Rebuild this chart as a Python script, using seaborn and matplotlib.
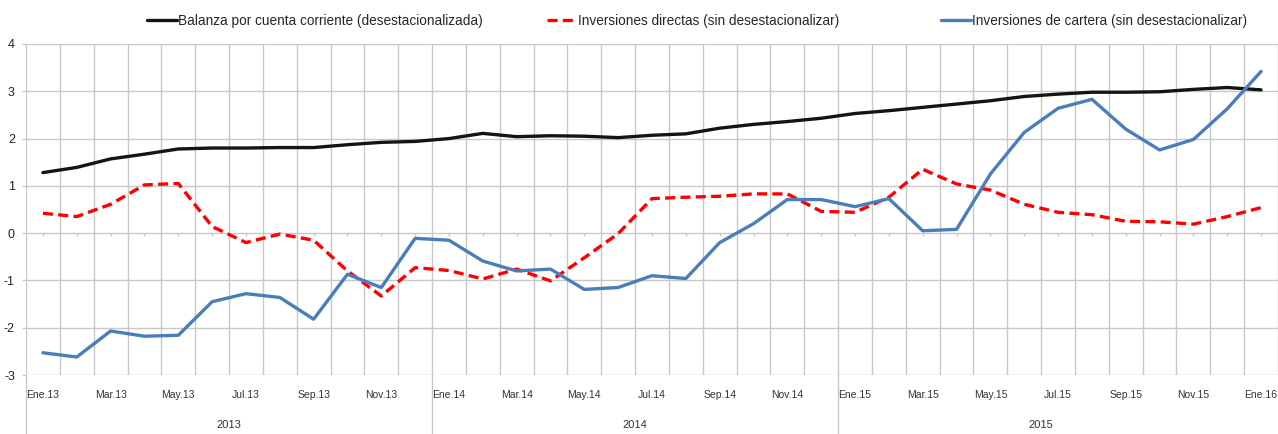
import numpy as np
import pandas as pd
import matplotlib
matplotlib.use("Agg")
import matplotlib.pyplot as plt
import seaborn as sns

# datos mensuales Ene.13 - Ene.16
meses = ["Ene", "Feb", "Mar", "Abr", "May", "Jun", "Jul", "Ago", "Sep", "Oct", "Nov", "Dic"]
periodos = [f"{m}.{a}" for a in ["13", "14", "15"] for m in meses] + ["Ene.16"]
anios = ["2013", "2014", "2015"]

balanza = [1.28, 1.39, 1.57, 1.67, 1.78, 1.80, 1.80, 1.81, 1.81, 1.87, 1.92, 1.94,
           2.00, 2.11, 2.04, 2.06, 2.05, 2.02, 2.07, 2.10, 2.22, 2.30, 2.36, 2.43,
           2.53, 2.59, 2.66, 2.73, 2.80, 2.89, 2.94, 2.98, 2.98, 2.99, 3.04, 3.08,
           3.03]
directas = [0.42, 0.35, 0.61, 1.02, 1.05, 0.14, -0.20, -0.02, -0.15, -0.80, -1.33, -0.73,
            -0.79, -0.97, -0.76, -1.01, -0.52, -0.01, 0.73, 0.76, 0.78, 0.83, 0.83, 0.46,
            0.44, 0.76, 1.35, 1.04, 0.91, 0.61, 0.44, 0.39, 0.25, 0.24, 0.19, 0.35,
            0.54]
cartera = [-2.53, -2.62, -2.07, -2.18, -2.16, -1.45, -1.28, -1.36, -1.82, -0.87, -1.15, -0.11,
           -0.15, -0.59, -0.80, -0.76, -1.19, -1.15, -0.90, -0.96, -0.20, 0.20, 0.71, 0.71,
           0.56, 0.73, 0.05, 0.08, 1.25, 2.13, 2.64, 2.83, 2.20, 1.76, 1.98, 2.63,
           3.42]

series = {
    "Balanza por cuenta corriente (desestacionalizada)": balanza,
    "Inversiones directas (sin desestacionalizar)": directas,
    "Inversiones de cartera (sin desestacionalizar)": cartera,
}
df = pd.DataFrame(series)
df["x"] = np.arange(len(periodos))
largo = df.melt(id_vars="x", var_name="serie", value_name="valor")

sns.set_theme(style="white")
plt.rcParams["font.family"] = ["Liberation Sans", "DejaVu Sans"]

fig = plt.figure(figsize=(12.78, 4.34), dpi=100)
ax = fig.add_axes([26 / 1278, 1 - 375 / 434, 1 - 26 / 1278, 331 / 434])

colores = ["#141414", "#ff0000", "#4a7ebb"]
estilos = {"Balanza por cuenta corriente (desestacionalizada)": "",
           "Inversiones directas (sin desestacionalizar)": (3, 1.6),
           "Inversiones de cartera (sin desestacionalizar)": ""}
sns.lineplot(data=largo, x="x", y="valor", hue="serie", style="serie",
             dashes=estilos, palette=colores, linewidth=2.4, ax=ax, legend=True)

ax.set_xlim(-0.5, len(periodos) - 0.5)
ax.set_ylim(-3, 4)
ax.set_yticks(range(-3, 5))
ax.set_yticklabels([str(v) for v in range(-3, 5)], fontsize=9, color="#222222")

# etiquetas cada dos meses
pos = np.arange(0, len(periodos), 2)
ax.set_xticks(pos)
ax.set_xticklabels([periodos[i] for i in pos], fontsize=7.5, color="#333333",
                   family=["Liberation Sans Narrow", "Liberation Sans"])
ax.set_xticks(np.arange(-0.5, len(periodos), 1), minor=True)
ax.tick_params(axis="x", which="major", length=0, pad=11)
ax.tick_params(axis="x", which="minor", length=21, color="#c8c8c8", width=1)
ax.tick_params(axis="y", length=3, color="#c8c8c8", width=1, pad=5, left=True)

ax.grid(True, which="minor", axis="x", color="#c8c8c8", linewidth=1)
ax.grid(True, which="major", axis="y", color="#c8c8c8", linewidth=1)
for s in ax.spines.values():
    s.set_visible(False)
ax.set_xlabel("")
ax.set_ylabel("")

# pequeñas marcas sobre el eje en cero
ax.vlines(df["x"], -0.07, 0, color="#c8c8c8", linewidth=1)

# separadores y etiquetas de año
tr = ax.get_xaxis_transform()
for k, anio in enumerate(anios):
    ini = k * 12 - 0.5
    ax.plot([ini, ini], [0, -59 / 331], transform=tr, color="#c8c8c8", linewidth=1, clip_on=False)
    ax.text(ini + 6, -50 / 331, anio, transform=tr, ha="center", va="center",
            fontsize=8, color="#333333")

# leyenda arriba, una entrada por serie
h, l = ax.get_legend_handles_labels()
ax.legend_.remove()
inicio_x = [147, 547, 941]
for hi, li, x0 in zip(h, l, inicio_x):
    leg = fig.legend([hi], [li], loc="center left", bbox_to_anchor=(x0 / 1278, 1 - 21 / 434),
                     frameon=False, fontsize=9.8, handlelength=2.2, handletextpad=0.1,
                     borderpad=0, borderaxespad=0)

fig.savefig("out.png", dpi=100)
